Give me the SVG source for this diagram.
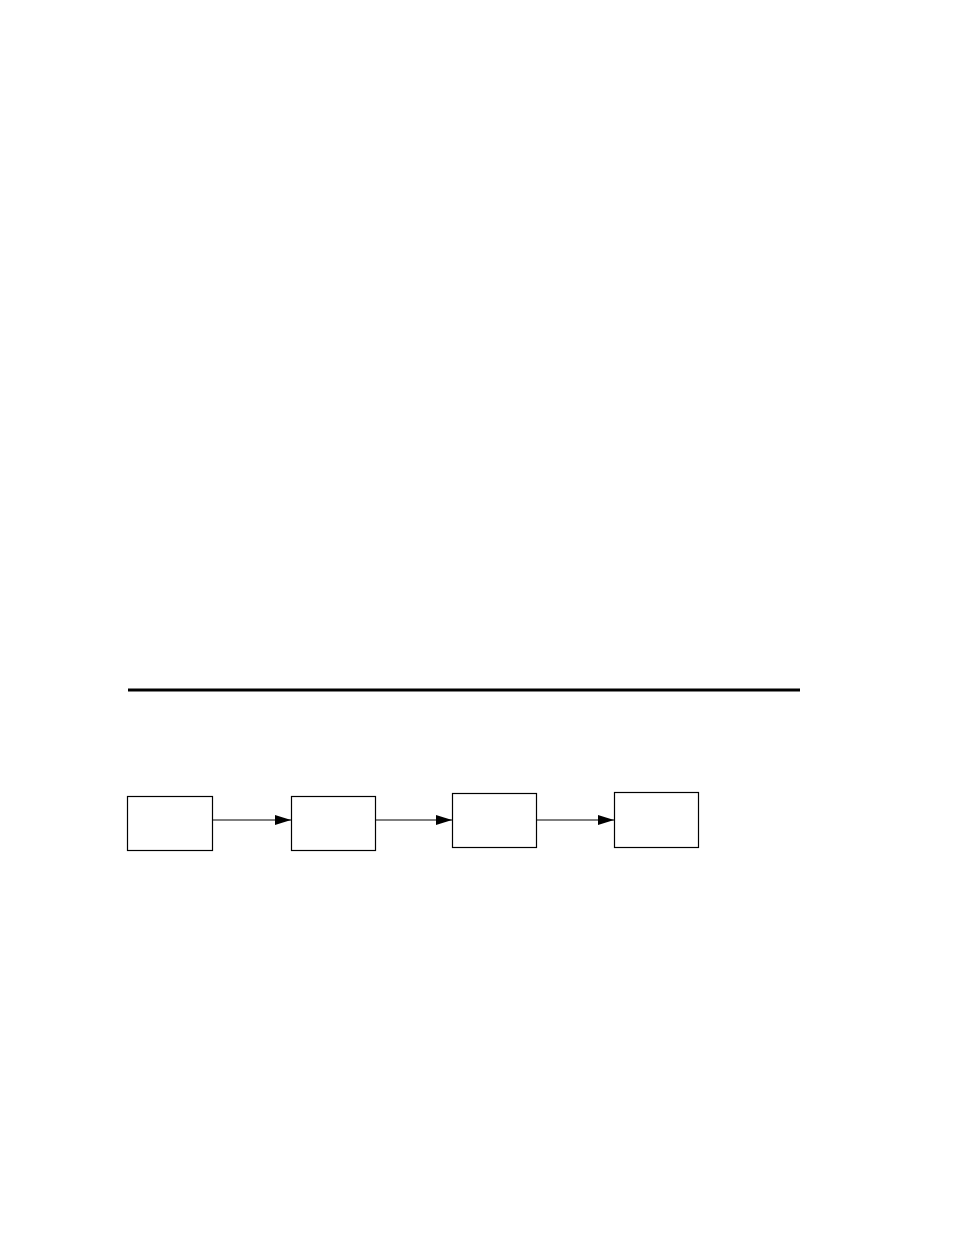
<svg xmlns="http://www.w3.org/2000/svg" width="954" height="1235" viewBox="0 0 954 1235">
<style>
.box{fill:#fff;stroke:#000;stroke-width:1.2}
.edge{stroke:#000;stroke-width:1.1;fill:none}
</style>
<defs>
<marker id="arr" markerWidth="16" markerHeight="10" refX="16" refY="5" orient="auto" markerUnits="userSpaceOnUse">
<path d="M0,0 L16,5 L0,10 Z" fill="#000"/>
</marker>
</defs>
<rect width="954" height="1235" fill="#fff"/>
<line x1="128" y1="690" x2="800" y2="690" stroke="#000" stroke-width="3"/>
<g id="node1"><rect class="box" x="127.5" y="796.5" width="85" height="54"/></g>
<g id="node2"><rect class="box" x="291.5" y="796.5" width="84" height="54"/></g>
<g id="node3"><rect class="box" x="452.5" y="793.5" width="84" height="54"/></g>
<g id="node4"><rect class="box" x="614.5" y="792.5" width="84" height="55"/></g>
<g id="connectors">
<line class="edge" x1="212.5" y1="820" x2="291" y2="820" marker-end="url(#arr)"/>
<line class="edge" x1="375.5" y1="820" x2="452" y2="820" marker-end="url(#arr)"/>
<line class="edge" x1="536.5" y1="820" x2="614" y2="820" marker-end="url(#arr)"/>
</g>
</svg>
